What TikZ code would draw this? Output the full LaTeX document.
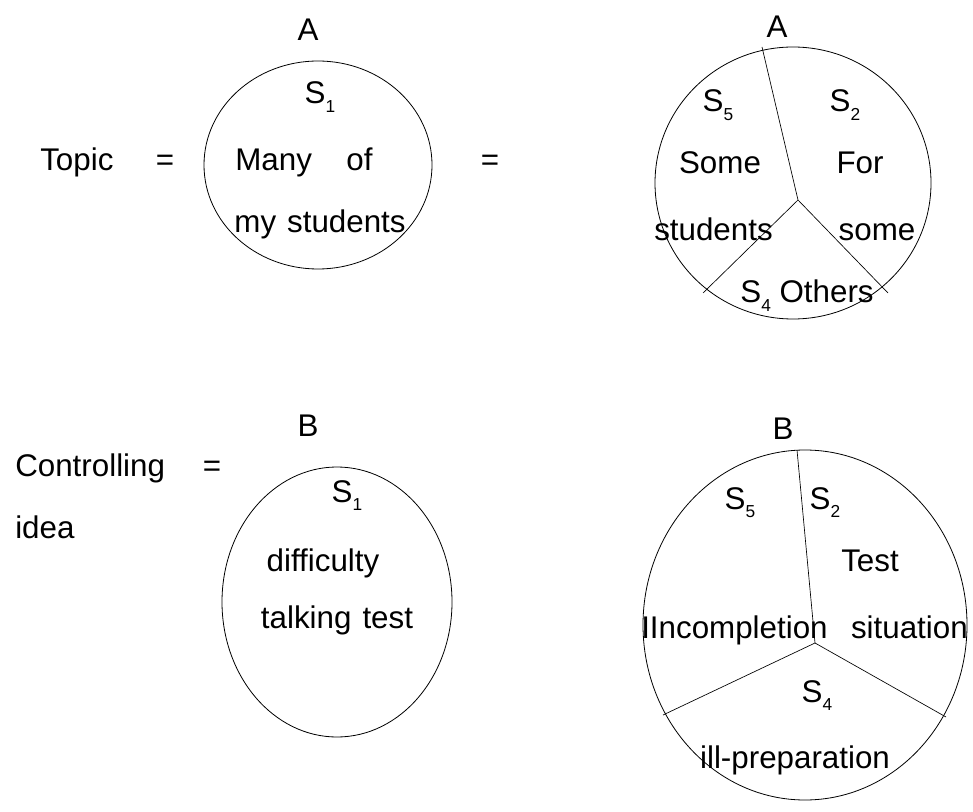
\documentclass[tikz,border=0pt]{standalone}
\usepackage{fontspec}
\setmainfont{Liberation Sans}
\newcommand{\sub}[1]{\raisebox{-0.28em}{\fontsize{13}{14}\selectfont #1}}
\begin{document}
\begin{tikzpicture}[x=0.75pt,y=-0.75pt,
  lbl/.style={anchor=base,inner sep=0pt,font=\fontsize{23.5}{27}\selectfont},
  ring/.style={draw=black,line width=0.6pt},
  divider/.style={draw=black,line width=0.5pt}]
\useasboundingbox (0,0) rectangle (973,812);
% ---------- top row ----------
\node[lbl] (Aleft) at (308,41) {A};
\node[lbl,anchor=base west] (topic) at (40,171) {Topic};
\node[lbl] (eq1) at (165,171) {=};
\draw[ring] (318,165) ellipse [x radius=114, y radius=104];
\node[lbl] (s1a) at (320,104) {S\sub{1}};
\node[lbl] (many) at (304,171) {Many\hspace{1.1em}of};
\node[lbl] (mystud) at (320,233) {my\hspace{0.35em}students};
\node[lbl] (eq2) at (490,171) {=};
\node[lbl] (Aright) at (777,38) {A};
\coordinate (c2) at (793,183);
\draw[ring] (c2) ellipse [x radius=138, y radius=136];
\coordinate (j1) at (798,200);
\coordinate (t1) at (762,47);
\coordinate (l1) at (703,293);
\coordinate (r1) at (888,293);
\draw[divider] (t1) -- (j1) -- (l1);
\draw[divider] (j1) -- (r1);
\node[lbl] (s5a) at (718,112) {S\sub{5}};
\node[lbl] (s2a) at (845,112) {S\sub{2}};
\node[lbl] (some1) at (720,174) {Some};
\node[lbl] (for) at (860,174) {For};
\node[lbl,anchor=base west] (studs) at (654,241) {students};
\node[lbl] (some2) at (877,241) {some};
\node[lbl] (others) at (807,303) {S\sub{4} Others};
% ---------- bottom row ----------
\node[lbl] (Bleft) at (308,436) {B};
\node[lbl,anchor=base west] (ctrl) at (15,476) {Controlling};
\node[lbl] (eq3) at (212,476) {=};
\node[lbl,anchor=base west] (idea) at (15,538) {idea};
\draw[ring] (337,602) ellipse [x radius=115, y radius=135];
\node[lbl] (s1b) at (347,502) {S\sub{1}};
\node[lbl] (diff) at (323,571) {difficulty};
\node[lbl] (talk) at (337,628) {talking\hspace{0.35em}test};
\node[lbl] (Bright) at (783,439) {B};
\coordinate (c4) at (805,625);
\draw[ring] (c4) ellipse [x radius=162, y radius=175];
\coordinate (j2) at (815,643);
\coordinate (t2) at (797,450);
\coordinate (l2) at (663,715);
\coordinate (r2) at (946,717);
\draw[divider] (t2) -- (j2) -- (l2);
\draw[divider] (j2) -- (r2);
\node[lbl] (s5b) at (740,509) {S\sub{5}};
\node[lbl] (s2b) at (825,509) {S\sub{2}};
\node[lbl] (test) at (870,571) {Test};
\node[lbl,anchor=base west] (incomp) at (641,638) {IIncompletion};
\node[lbl,anchor=base east] (situ) at (968,638) {situation};
\node[lbl] (s4b) at (817,702) {S\sub{4}};
\node[lbl] (illprep) at (795,768) {ill-preparation};
\end{tikzpicture}
\end{document}
